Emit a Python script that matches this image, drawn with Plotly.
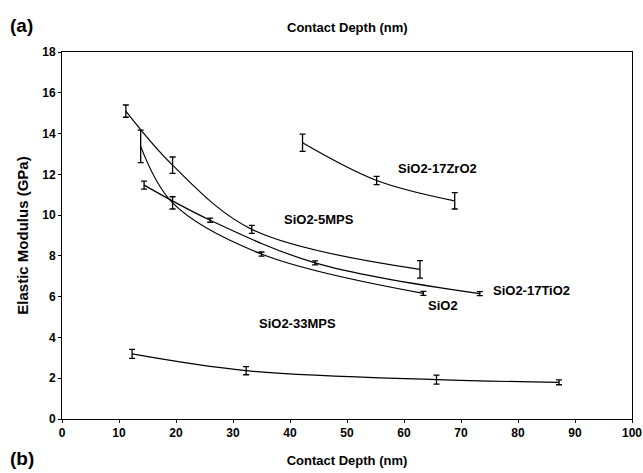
import plotly.graph_objects as go

# Data: contact depth (nm), elastic modulus (GPa), error (GPa)
zro2_x = [42.2, 55.2, 68.9]
zro2_y = [13.55, 11.7, 10.7]
zro2_e = [0.42, 0.2, 0.4]

mps5_x = [11.2, 19.4, 33.3, 62.8]
mps5_y = [15.1, 12.45, 9.3, 7.34]
mps5_e = [0.3, 0.4, 0.2, 0.43]

tio2_x = [14.4, 26.0, 44.4, 73.3]
tio2_y = [11.47, 9.75, 7.66, 6.15]
tio2_e = [0.2, 0.1, 0.1, 0.1]

sio2_x = [13.8, 19.4, 35.0, 63.4]
sio2_y = [13.37, 10.6, 8.09, 6.16]
sio2_e = [0.8, 0.3, 0.1, 0.1]

mps33_x = [12.3, 32.3, 65.7, 87.2]
mps33_y = [3.19, 2.37, 1.93, 1.8]
mps33_e = [0.22, 0.2, 0.22, 0.12]

series_labels = ["SiO2-17ZrO2", "SiO2-5MPS", "SiO2-17TiO2", "SiO2", "SiO2-33MPS"]
label_x = [65.9, 45.1, 82.4, 66.8, 41.4]
label_y = [12.3, 9.8, 6.29, 5.59, 4.7]

x_ticks = [0, 10, 20, 30, 40, 50, 60, 70, 80, 90, 100]
y_ticks = [0, 2, 4, 6, 8, 10, 12, 14, 16, 18]

FONT = "Liberation Sans"

fig = go.Figure()
for xs, ys, es in [(zro2_x, zro2_y, zro2_e), (mps5_x, mps5_y, mps5_e),
                   (tio2_x, tio2_y, tio2_e), (sio2_x, sio2_y, sio2_e),
                   (mps33_x, mps33_y, mps33_e)]:
    fig.add_trace(go.Scatter(
        x=xs, y=ys, mode="lines",
        line=dict(color="black", width=1.2, shape="spline", smoothing=1.0),
        error_y=dict(type="data", array=es, visible=True, color="black",
                     thickness=1.3, width=3),
        showlegend=False, hoverinfo="skip"))

for t, lx, ly in zip(series_labels, label_x, label_y):
    fig.add_annotation(x=lx, y=ly, text=t, showarrow=False,
                       font=dict(family=FONT, size=13, color="black", weight="bold"))

# panel text
fig.add_annotation(xref="paper", yref="paper", x=-0.095, y=1.0, yshift=27,
                   text="(a)", showarrow=False, xanchor="left", yanchor="middle",
                   font=dict(family=FONT, size=19, color="black", weight="bold"))
fig.add_annotation(xref="paper", yref="paper", x=0.5, y=1.0, yshift=25,
                   text="Contact Depth (nm)", showarrow=False, yanchor="middle",
                   font=dict(family=FONT, size=13, color="black", weight="bold"))
fig.add_annotation(xref="paper", yref="paper", x=-0.095, y=0.0, yshift=-39,
                   text="(b)", showarrow=False, xanchor="left", yanchor="middle",
                   font=dict(family=FONT, size=19, color="black", weight="bold"))

axis_common = dict(showline=True, linecolor="black", linewidth=1, mirror=True,
                   showgrid=False, zeroline=False, ticks="outside", ticklen=3,
                   tickcolor="black", automargin=False,
                   tickfont=dict(family=FONT, size=12, color="black", weight="bold"))

fig.update_layout(
    width=643, height=473,
    margin=dict(l=62, r=11, t=52, b=54),
    paper_bgcolor="white", plot_bgcolor="white",
    xaxis=dict(range=[0, 100], tickvals=x_ticks,
               title=dict(text="Contact Depth (nm)", standoff=16,
                          font=dict(family=FONT, size=13, color="black", weight="bold")),
               **axis_common),
    yaxis=dict(range=[0, 18], tickvals=y_ticks,
               title=dict(text="Elastic Modulus (GPa)", standoff=9,
                          font=dict(family=FONT, size=15, color="black", weight="bold")),
               **axis_common),
)

fig.write_html("out.html",
               config={"displayModeBar": False},
               post_script="document.body.style.margin='0';document.body.style.overflow='hidden';")
